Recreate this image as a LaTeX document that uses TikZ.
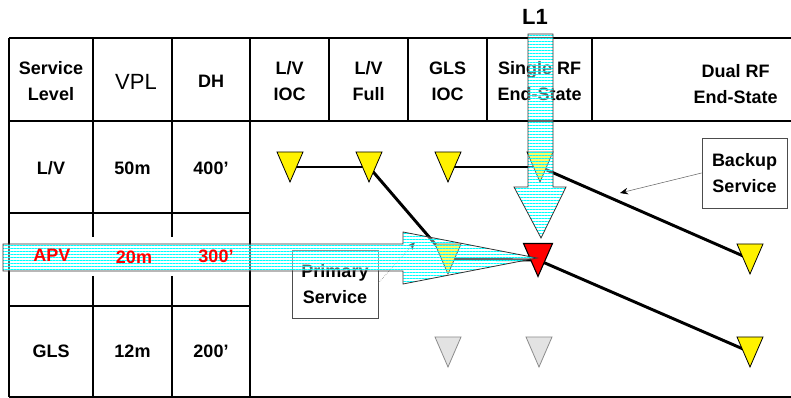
\documentclass[tikz,border=0pt]{standalone}
\usepackage{fontspec}
\setmainfont{Liberation Sans}
\usetikzlibrary{patterns.meta,arrows.meta}
\begin{document}
\begin{tikzpicture}[x=0.75pt,y=-0.75pt,
  grid/.style={line width=1.5pt,black},
  hd/.style={font=\bfseries\fontsize{13.5}{19.5}\selectfont,align=center,inner sep=0pt},
  cell/.style={font=\bfseries\fontsize{13.5}{16}\selectfont,inner sep=0pt},
  redcell/.style={cell,text=red},
  link/.style={line width=2.2pt,black},
  tri/.pic={\path[pic actions] (-13,-15) -- (13,-15) -- (0,15) -- cycle;},
  bigtri/.pic={\path[pic actions] (-14.5,-16.5) -- (14.5,-16.5) -- (0,16.5) -- cycle;},
  ytri/.style={fill=yellow,draw=black,line width=0.6pt},
  gtri/.style={fill=black!11,draw=black!45,line width=0.6pt},
  rtri/.style={fill=red,draw=black,line width=0.8pt},
  callout/.style={draw=black!70,line width=0.6pt,fill=white,align=center,
    font=\bfseries\fontsize{13.5}{19.5}\selectfont,inner sep=0pt},
  pointer/.style={draw=black!60,line width=0.4pt,-{Stealth[length=6pt,width=5pt,black]}},
  stripes/.style={pattern={Lines[angle=0,distance=2.25pt,line width=0.55pt]},pattern color=cyan},
  haze/.style={fill=white,fill opacity=0.4},
  arrowline/.style={draw=black!80,line width=0.6pt}
]
\useasboundingbox (0,0) rectangle (791,398);

% table grid
\draw[grid] (9,38) -- (791,38);
\draw[grid] (9,121) -- (791,121);
\draw[grid] (9,397) -- (791,397);
\draw[grid] (9,38) -- (9,397);
\draw[grid] (93,38) -- (93,237) (93,276) -- (93,397);
\draw[grid] (172,38) -- (172,237) (172,276) -- (172,397);
\draw[grid] (250,38) -- (250,397);
\foreach \x in {329,408,487,592} \draw[grid] (\x,38) -- (\x,121);
\draw[grid] (9,213) -- (250,213);
\draw[grid] (9,306) -- (250,306);

% header texts
\node[hd] (hSL) at (51,81) {Service\\Level};
\node[inner sep=0pt,font=\fontsize{16.5}{19}\selectfont] (hVPL) at (136,82) {VPL};
\node[hd] (hDH) at (211,81) {DH};
\node[hd] (hLVI) at (289.5,81) {L/V\\IOC};
\node[hd] (hLVF) at (368.5,81) {L/V\\Full};
\node[hd] (hGLSI) at (447.5,81) {GLS\\IOC};
\node[hd] (hSRF) at (539.5,81) {Single RF\\End-State};
\node[hd] (hDRF) at (735.5,84) {Dual RF\\End-State};

% body texts
\node[cell] (lv) at (51,168) {L/V};
\node[cell] (lv50) at (132.5,168) {50m};
\node[cell] (lv400) at (211,168) {400'};
\node[cell] (gls) at (51,351) {GLS};
\node[cell] (gls12) at (132.5,351) {12m};
\node[cell] (gls200) at (211,351) {200'};

% callout boxes
\node[callout,minimum width=64.5pt,minimum height=51pt] (primary) at (335,284) {Primary\\Service};
\node[callout,minimum width=63.75pt,minimum height=52.5pt] (backup) at (744.5,173) {Backup\\Service};

% triangle positions
\coordinate (lvioc) at (290,167);
\coordinate (lvfull) at (369,167);
\coordinate (glsioc) at (448,167);
\coordinate (srf) at (540,167);
\coordinate (apvgls) at (448,259);
\coordinate (redt) at (538,260);
\coordinate (dual1) at (750,259);
\coordinate (dual2) at (750,352);
\coordinate (grey1) at (448,352);
\coordinate (grey2) at (539,352);

% connectors
\draw[link] (lvioc) -- (lvfull);
\draw[link] (lvfull) -- (apvgls);
\draw[link] (apvgls) -- (redt);
\draw[link] (glsioc) -- (srf);
\draw[link] (srf) -- (dual1);
\draw[link] (redt) -- (dual2);

% triangles
\pic[ytri] at (lvioc) {tri};
\pic[ytri] at (lvfull) {tri};
\pic[ytri] at (glsioc) {tri};
\pic[ytri] at (srf) {tri};
\pic[ytri] at (apvgls) {tri};
\pic[ytri] at (dual1) {tri};
\pic[ytri] at (dual2) {tri};
\pic[gtri] at (grey1) {tri};
\pic[gtri] at (grey2) {tri};
\pic[rtri] at (redt) {bigtri};

% callout pointers
\coordinate (bptip) at (620,193);
\coordinate (pptip) at (415,242);
\draw[pointer] (backup.west) -- (bptip);
\draw[pointer,densely dotted] (primary.east |- 0,283) -- (pptip);

% horizontal APV arrow
\path[haze] (3,244) -- (403,244) -- (403,232) -- (537,258) -- (403,284) -- (403,271) -- (3,271) -- cycle;
\path[stripes] (3,244) -- (403,244) -- (403,232) -- (537,258) -- (403,284) -- (403,271) -- (3,271) -- cycle;
\draw[arrowline] (3,244) -- (403,244) -- (403,232) -- (537,258) -- (403,284) -- (403,271) -- (3,271) -- cycle;

% vertical L1 arrow
\path[haze] (528,34) -- (553,34) -- (553,187) -- (566,187) -- (541,238) -- (514,187) -- (528,187) -- cycle;
\path[stripes] (528,34) -- (553,34) -- (553,187) -- (566,187) -- (541,238) -- (514,187) -- (528,187) -- cycle;
\draw[arrowline] (528,34) -- (553,34) -- (553,187) -- (566,187) -- (541,238) -- (514,187) -- (528,187) -- cycle;

% APV row texts
\node[redcell] (apv) at (52,255) {APV};
\node[redcell] (apv20) at (134,257) {20m};
\node[redcell] (apv300) at (216,256) {300'};

% L1 label
\node[inner sep=0pt,font=\bfseries\fontsize{16.5}{19}\selectfont] (l1) at (535,17) {L1};
\end{tikzpicture}
\end{document}
